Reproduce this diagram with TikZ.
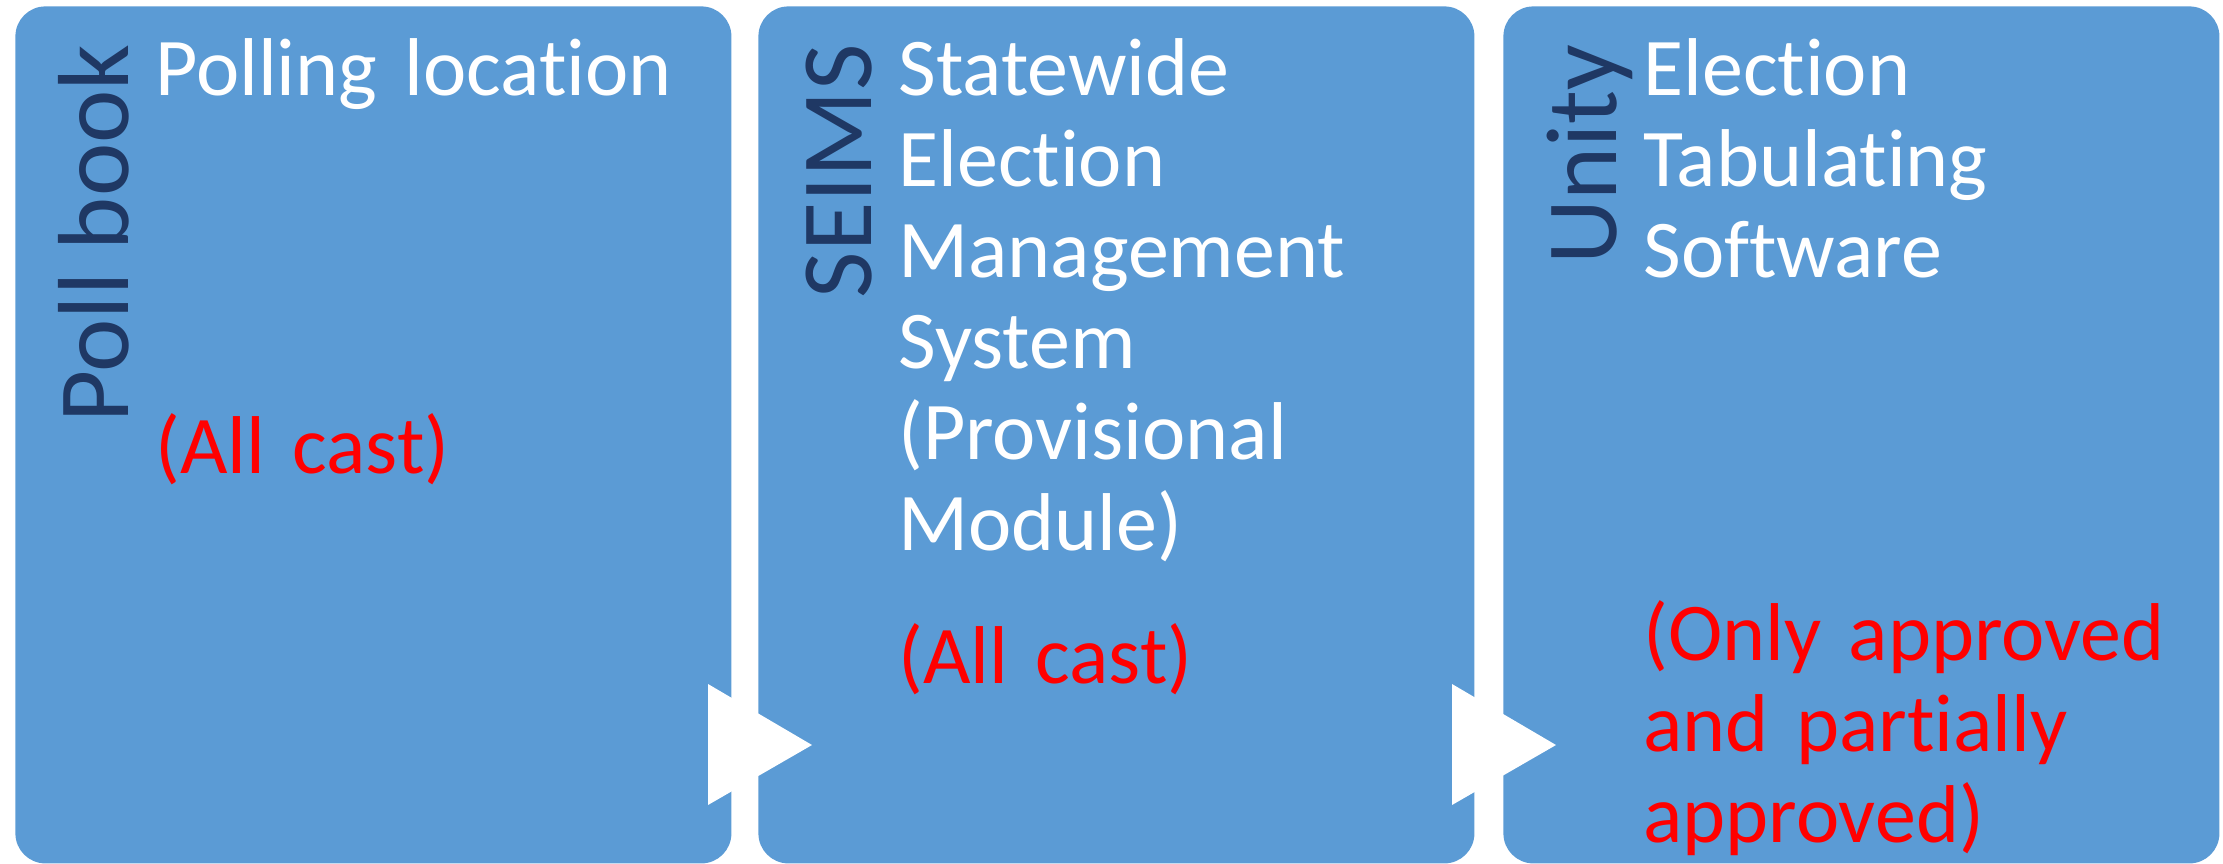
\documentclass[tikz,border=0pt]{standalone}
\usepackage{fontspec}
\setmainfont[Ligatures={NoCommon,NoContextual},RawFeature={-liga;-clig;-calt;-dlig}]{Carlito}
\definecolor{boxblue}{HTML}{5B9BD5}
\definecolor{labelblue}{HTML}{1F3864}
\definecolor{alertred}{HTML}{FF0000}
\begin{document}
\begin{tikzpicture}[x=0.5pt,y=-0.5pt,
  panel/.style={fill=boxblue, rounded corners=15pt, draw=none, inner sep=0pt, anchor=north west, minimum width=358pt, minimum height=428.5pt},
  sidelabel/.style={rotate=90, anchor=base east, inner sep=0pt, text=labelblue, font=\fontsize{50.5}{60}\selectfont},
  bodytext/.style={anchor=base west, inner sep=0pt, text=white, text width=285pt, align=left, font=\fontsize{41}{45.5}\selectfont},
  redtext/.style={bodytext, text=alertred},
  arrowtri/.style={fill=white}]
\useasboundingbox (0,0) rectangle (2223,863);
% panels
\node[panel] (p1) at (15,6) {};
\node[panel] (p2) at (758,6) {};
\node[panel] (p3) at (1503,6) {};
% side labels
\node[sidelabel] (l1) at (128,44) {Poll book};
\node[sidelabel] (l2) at (871,44) {SEIMS};
\node[sidelabel] (l3) at (1616,44) {Unity};
% body text
\node[bodytext] (t1) at (155,95) {Polling location};
\node[redtext] (r1) at (155,473) {(All cast)};
\node[bodytext] (t2) at (898,95) {Statewide\\Election\\Management\\System\\(Provisional\\Module)};
\node[redtext] (r2) at (898,683) {(All cast)};
\node[bodytext] (t3) at (1643,95) {Election\\Tabulating\\Software};
\node[redtext] (r3) at (1643,660) {(Only approved\\and partially\\approved)};
% arrows
\fill[arrowtri] (708,684) -- (812,745) -- (708,805) -- cycle;
\fill[arrowtri] (1452,684) -- (1556,745) -- (1452,805) -- cycle;
\end{tikzpicture}
\end{document}
